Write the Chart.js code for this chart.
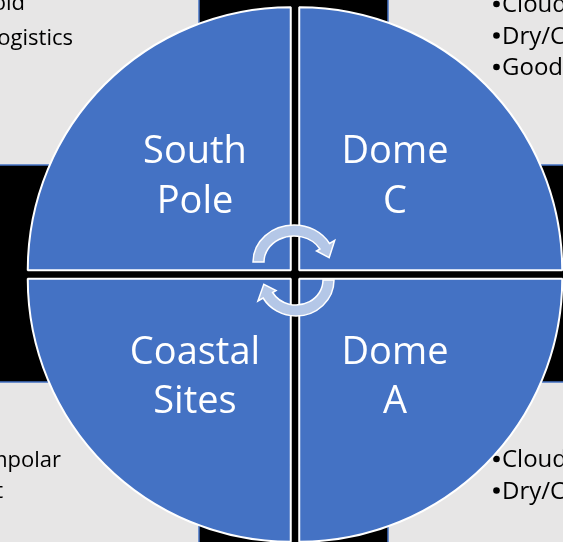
<!DOCTYPE html>
<html>
<head>
<meta charset="utf-8">
<script src="https://cdn.jsdelivr.net/npm/chart.js@4"></script>
<style>
  html, body { margin: 0; padding: 0; background: #000; overflow: hidden; }
  canvas { display: block; }
</style>
</head>
<body>
<canvas id="sitesChart" width="563" height="542"></canvas>
<script>
// --- Data: four Antarctic sites, one equal quarter each (clockwise from top) ---
const siteNames = ['Dome C', 'Dome A', 'Coastal Sites', 'South Pole'];
const siteLabelLines = [['Dome', 'C'], ['Dome', 'A'], ['Coastal', 'Sites'], ['South', 'Pole']];
const siteShares = [25, 25, 25, 25];

// --- Note boxes in the corners (cropped in the original slide) ---
const topLeftNotes = ['\u2022Cold', '\u2022Easy logistics'];
const topRightNotes = ['Cloudless', 'Dry/Cold', 'Good seeing'];
const bottomLeftNotes = ['\u2022Circumpolar', '\u2022Support'];
const bottomRightNotes = ['Cloudless', 'Dry/Cold'];

const BLUE = '#4472C4';
const BOX_GRAY = '#E7E6E6';
const ARROW_FILL = '#B4C7E7';

// background: black slide with the four grey note boxes
const backdropPlugin = {
    id: 'backdrop',
    beforeDraw(chart) {
        const ctx = chart.ctx;
        const W = chart.width, H = chart.height;
        ctx.save();
        ctx.fillStyle = '#000';
        ctx.fillRect(0, 0, W, H);

        const leftEdge = 199, rightEdge = 388, topEdge = 165, bottomEdge = 382;
        const boxes = [
            [-10, -10, leftEdge + 10, topEdge + 10],
            [rightEdge, -10, W - rightEdge + 10, topEdge + 10],
            [-10, bottomEdge, leftEdge + 10, H - bottomEdge + 10],
            [rightEdge, bottomEdge, W - rightEdge + 10, H - bottomEdge + 10]
        ];
        boxes.forEach(b => {
            ctx.fillStyle = BOX_GRAY;
            ctx.fillRect(b[0], b[1], b[2], b[3]);
            ctx.strokeStyle = BLUE;
            ctx.lineWidth = 1.5;
            ctx.strokeRect(b[0], b[1], b[2], b[3]);
        });

        ctx.fillStyle = '#000';
        ctx.font = '22px "Open Sans"';
        ctx.textBaseline = 'alphabetic';

        // left boxes: text is cut off on the left, so anchor the visible right ends
        ctx.textAlign = 'right';
        ctx.fillText(topLeftNotes[0], 25, 10);
        ctx.fillText(topLeftNotes[1], 73, 45);
        ctx.fillText(bottomLeftNotes[0], 61, 467);
        ctx.fillText(bottomLeftNotes[1], 3, 498);

        // right boxes: bullet dot then text, clipped by the window edge
        ctx.textAlign = 'left';
        ctx.font = '24px "Open Sans"';
        const bulletRows = (lines, y0, step) => {
            lines.forEach((t, i) => {
                const y = y0 + i * step;
                ctx.beginPath();
                ctx.arc(496.5, y - 8, 3.3, 0, Math.PI * 2);
                ctx.fill();
                ctx.fillText(t, 502, y);
            });
        };
        bulletRows(topRightNotes, 12, 31.5);
        bulletRows(bottomRightNotes, 467, 31.5);
        ctx.restore();
    }
};

function drawCurvedArrow(ctx, cx, cy, rx, ry, w, a0, a1, aTip) {
    const rad = d => d * Math.PI / 180;
    const pt = (rX, rY, a) => [cx + rX * Math.cos(rad(a)), cy + rY * Math.sin(rad(a))];
    const over = 6, under = 4;
    ctx.beginPath();
    ctx.ellipse(cx, cy, rx, ry, 0, rad(a0), rad(a1), false);
    let p = pt(rx + over, ry + over, a1);
    ctx.lineTo(p[0], p[1]);
    p = pt(rx - w / 2, ry - w / 2, aTip);
    ctx.lineTo(p[0], p[1]);
    p = pt(rx - w - under, ry - w - under, a1);
    ctx.lineTo(p[0], p[1]);
    ctx.ellipse(cx, cy, rx - w, ry - w, 0, rad(a1), rad(a0), true);
    ctx.closePath();
    ctx.fillStyle = ARROW_FILL;
    ctx.fill();
    ctx.strokeStyle = '#fff';
    ctx.lineWidth = 1.5;
    ctx.stroke();
}

// labels in the quarters + the two cycle arrows in the middle
const overlayPlugin = {
    id: 'overlay',
    afterDatasetsDraw(chart) {
        const ctx = chart.ctx;
        const meta = chart.getDatasetMeta(0);
        const off = chart.data.datasets[0].offset / 4;
        ctx.save();
        ctx.fillStyle = '#fff';
        ctx.font = '38px "Open Sans"';
        ctx.textAlign = 'center';
        ctx.textBaseline = 'alphabetic';
        meta.data.forEach((arc, i) => {
            const mid = (arc.startAngle + arc.endAngle) / 2;
            const d = off + arc.outerRadius * 0.515;
            const lx = arc.x + Math.cos(mid) * d;
            const ly = arc.y + Math.sin(mid) * d;
            const lines = siteLabelLines[i];
            ctx.fillText(lines[0], lx, ly - 11);
            ctx.fillText(lines[1], lx, ly + 38.5);
        });

        const c = meta.data[0];
        drawCurvedArrow(ctx, c.x - 1, c.y - 12.5, 41, 37, 11, 180, 330, 352);
        drawCurvedArrow(ctx, c.x + 1, c.y + 5.5, 38, 36, 11, 0, 150, 172);
        ctx.restore();
    }
};

const chart = new Chart(document.getElementById('sitesChart'), {
    type: 'pie',
    data: {
        labels: siteNames,
        datasets: [{
            data: siteShares,
            backgroundColor: BLUE,
            borderColor: '#fff',
            borderWidth: 2,
            offset: 24,
            hoverOffset: 24
        }]
    },
    options: {
        responsive: false,
        animation: false,
        radius: 263,
        layout: { padding: { left: 27, right: 0, top: 7, bottom: 0 } },
        plugins: {
            legend: { display: false },
            tooltip: { enabled: false }
        }
    },
    plugins: [backdropPlugin, overlayPlugin]
});
</script>
</body>
</html>
